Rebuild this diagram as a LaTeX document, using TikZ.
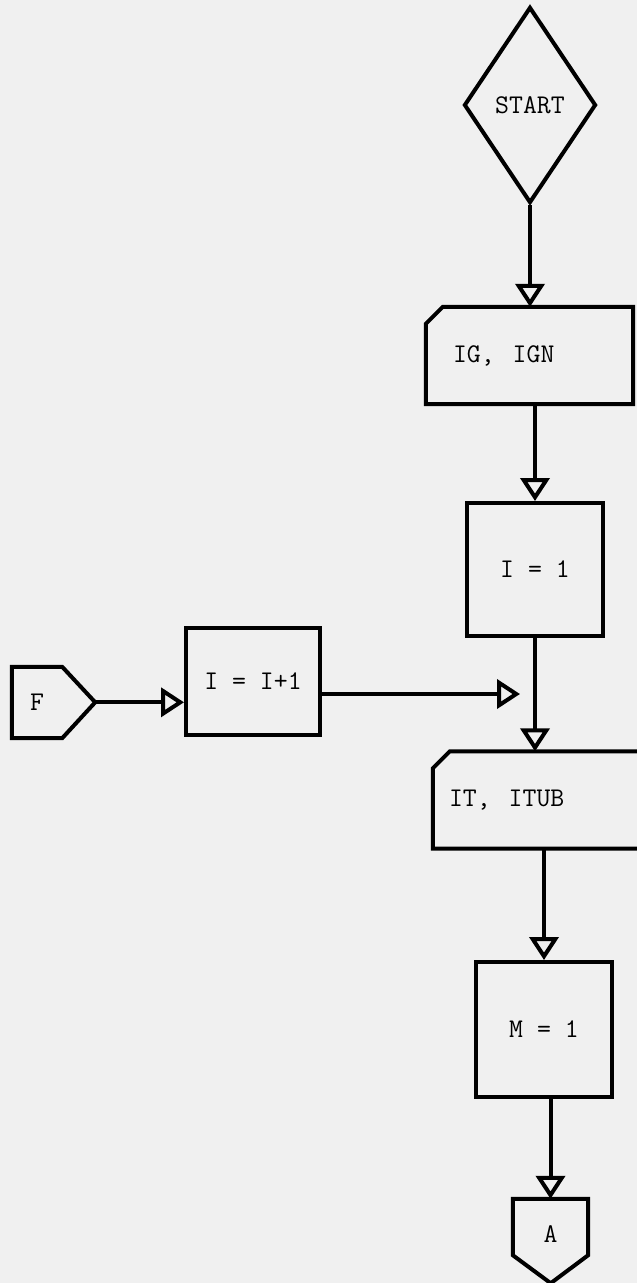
\documentclass[tikz,border=0pt]{standalone}
\usepackage{fontspec}
\usepackage{tikz}
\usetikzlibrary{arrows.meta,shapes.geometric}
\newcommand{\flowfont}{\fontsize{27}{30}\selectfont\ttfamily}
\tikzset{
    %Define standard arrow tip
    >={Triangle[open,length=23pt,width=29pt]},
    %Define style for boxes
    proc/.style={
           rectangle,
           draw=black, line width=4pt,
           minimum width=136pt,
           minimum height=134pt,
           inner sep=0pt,
           font=\flowfont,
           text centered},
    card/.style={
           rectangle,
           minimum height=97pt,
           inner ysep=0pt,
           font=\flowfont,
           align=left},
    startbox/.style={
           diamond,
           draw=black, line width=4pt,
           minimum width=132pt,
           minimum height=196pt,
           inner sep=0pt,
           font=\flowfont},
    offpage/.style={
           rectangle,
           inner sep=0pt,
           font=\flowfont},
    outline/.style={
           draw=black, line width=4pt},
    % Define arrow style
    flow/.style={
           ->,
           line width=4pt}
}

\begin{document}
\begin{tikzpicture}[x=1pt,y=-1pt]
\useasboundingbox[fill=black!6] (0,0) rectangle (637,1283);
\node[startbox] (start) at (530,105) {START};
\node[card, minimum width=207pt, text width=153pt, inner xsep=27pt] (ig) at (529.5,355.5) {IG,\ \ IGN};
\node[proc, minimum height=133pt] (one) at (535,569.5) {I = 1};
\node[proc, minimum width=134pt, minimum height=107pt] (inc) at (253,681.5) {I = I+1};
\node[offpage, minimum width=50pt, minimum height=71pt] (F) at (37,702.5) {F};
\coordinate (join) at (520,694);
\node[card, minimum width=220pt, text width=188pt, inner xsep=16pt] (it) at (543,800) {IT,\ \ ITUB};
\node[proc, minimum height=135pt] (m) at (544,1029.5) {M = 1};
\node[offpage, minimum width=75pt, minimum height=56pt, text height=30pt] (A) at (550.5,1227) {A};
% card and connector outlines
\draw[outline] ([yshift=-17pt]ig.north west) -- ([xshift=17pt]ig.north west) -- (ig.north east)
    -- (ig.south east) -- (ig.south west) -- cycle;
\draw[outline] ([yshift=-17pt]it.north west) -- ([xshift=17pt]it.north west) -- (it.north east)
    -- (it.south east) -- (it.south west) -- cycle;
\draw[outline] (F.north west) -- (F.north east) -- ++(33,35.5) coordinate (Ftip)
    -- (F.south east) -- (F.south west) -- cycle;
\draw[outline] (A.north west) -- (A.north east) -- (A.south east) -- ++(-37.5,28) coordinate (Atip)
    -- (A.south west) -- cycle;
\draw[flow] (start.south) -- (start.south |- ig.north);
\draw[flow] (one.north |- ig.south) -- (one.north);
\draw[flow] (one.south) -- (one.south |- it.north);
\draw[flow] (m.north |- it.south) -- (m.north);
\draw[flow] (A.north |- m.south) -- (A.north);
\draw[flow] (Ftip) -- (Ftip -| inc.west);
\draw[flow] (join -| inc.east) -- (join);
\end{tikzpicture}
\end{document}
